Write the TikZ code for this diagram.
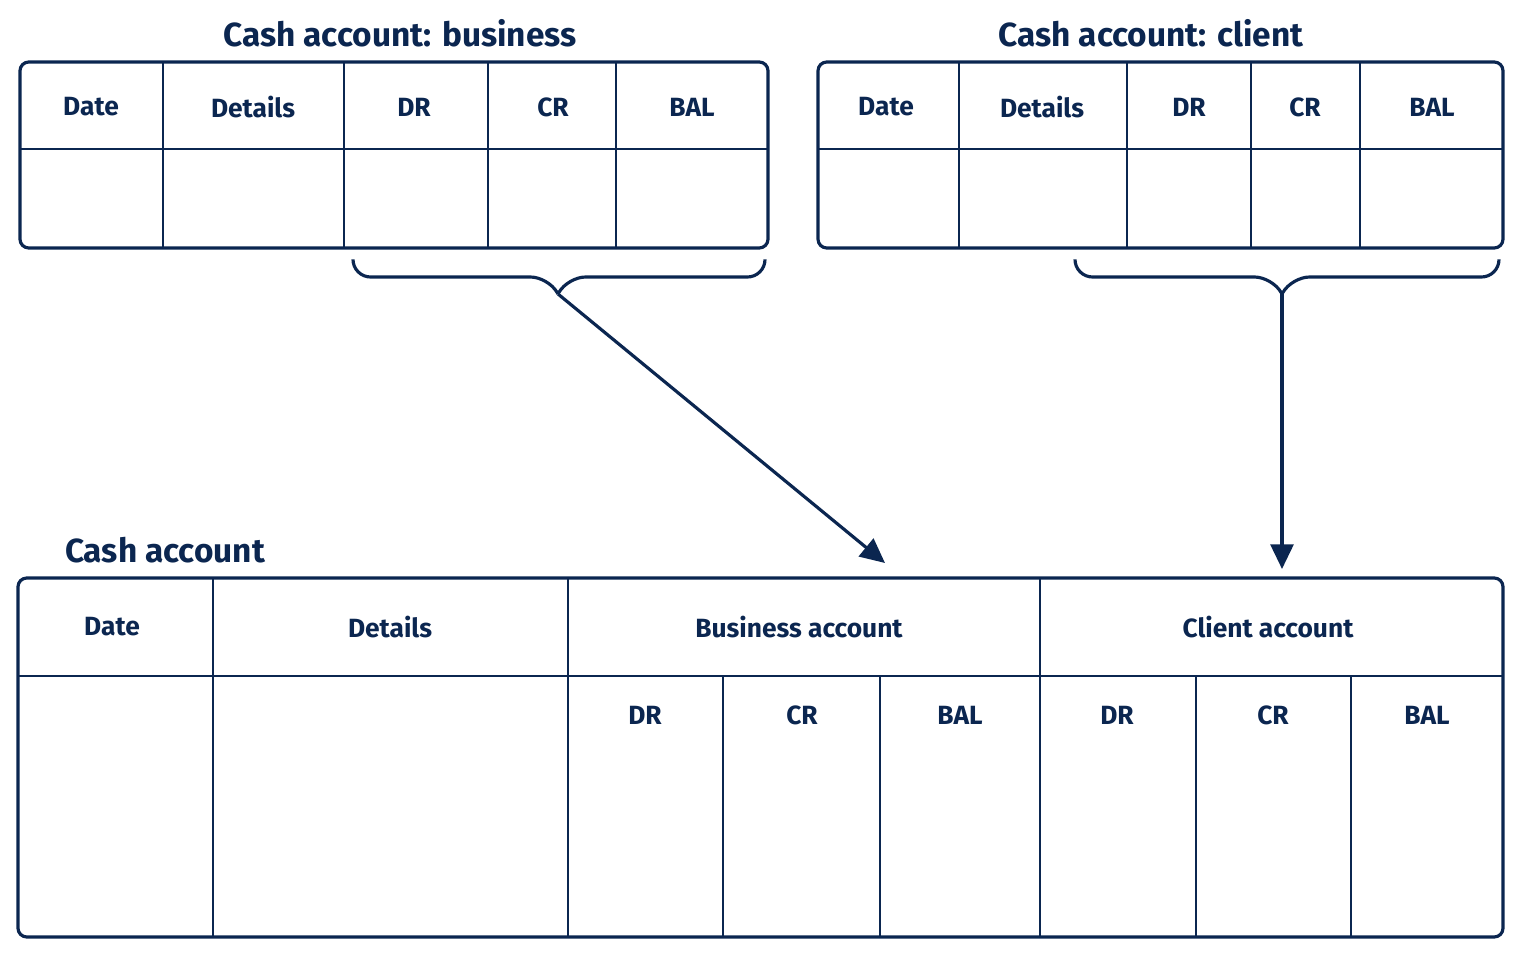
\documentclass[tikz,border=0pt]{standalone}
\usepackage{fontspec}
\setmainfont{Fira Sans}
\usetikzlibrary{positioning,arrows.meta}
\definecolor{navy}{HTML}{0B2650}
\begin{document}
\begin{tikzpicture}[x=0.02cm,y=-0.02cm,line width=1.4pt,draw=navy,
  every node/.style={text=navy,font=\fontsize{15}{18}\selectfont\bfseries},
  title/.style={font=\fontsize{19}{22}\selectfont\bfseries},
  box/.style={draw=navy,line width=1.8pt,rounded corners=5pt},
  rule/.style={draw=navy,line width=1.2pt},
  brace/.style={draw=navy,line width=1.8pt,rounded corners=10pt},
  link/.style={draw=navy,line width=1.8pt,-{Triangle[length=14pt,width=13pt]}}]
\useasboundingbox (0,0) rectangle (1522,956);

%titles
\node[title] (tb) at (400,33) {Cash account: business};
\node[title] (tc) at (1151,33) {Cash account: client};
\node[title,anchor=west] (ta) at (58,550) {Cash account};

%business table
\draw[box] (20,62) rectangle (768,248);
\draw[rule] (20,149) -- (768,149);
\foreach \x in {163,344,488,616} \draw[rule] (\x,62) -- (\x,248);
\node (b1) at (91,107) {Date};
\node (b2) at (253,107) {Details};
\node (b3) at (414,107) {DR};
\node (b4) at (553,107) {CR};
\node (b5) at (692,107) {BAL};

%client table
\draw[box] (818,62) rectangle (1503,248);
\draw[rule] (818,149) -- (1503,149);
\foreach \x in {959,1127,1251,1360} \draw[rule] (\x,62) -- (\x,248);
\node (c1) at (886,107) {Date};
\node (c2) at (1042,107) {Details};
\node (c3) at (1189,107) {DR};
\node (c4) at (1305,107) {CR};
\node (c5) at (1432,107) {BAL};

%combined table
\draw[box] (18,578) rectangle (1503,937);
\draw[rule] (18,676) -- (1503,676);
\foreach \x in {213,568,1040} \draw[rule] (\x,578) -- (\x,937);
\foreach \x in {723,880,1196,1351} \draw[rule] (\x,676) -- (\x,937);
\node (a1) at (112,627) {Date};
\node (a2) at (390,627) {Details};
\node (a3) at (799,627) {Business account};
\node (a4) at (1268,627) {Client account};
\node (a5) at (645,715) {DR};
\node (a6) at (802,715) {CR};
\node (a7) at (960,715) {BAL};
\node (a8) at (1117,715) {DR};
\node (a9) at (1273,715) {CR};
\node (a10) at (1427,715) {BAL};

%braces
\coordinate (bt) at (558,294);
\coordinate (ct) at (1282,294);
\draw[brace] (353,260) -- (353,277) -- (548,277) -- (558,294);
\draw[brace] (765,260) -- (765,277) -- (568,277) -- (558,294);
\draw[brace] (1075,260) -- (1075,277) -- (1272,277) -- (1282,294);
\draw[brace] (1499,260) -- (1499,277) -- (1292,277) -- (1282,294);

%arrows
\coordinate (be) at (885,563);
\coordinate (ce) at (1282,569);
\draw[link] (bt) -- (be);
\draw[link] (ct) -- (ce);
\end{tikzpicture}
\end{document}
